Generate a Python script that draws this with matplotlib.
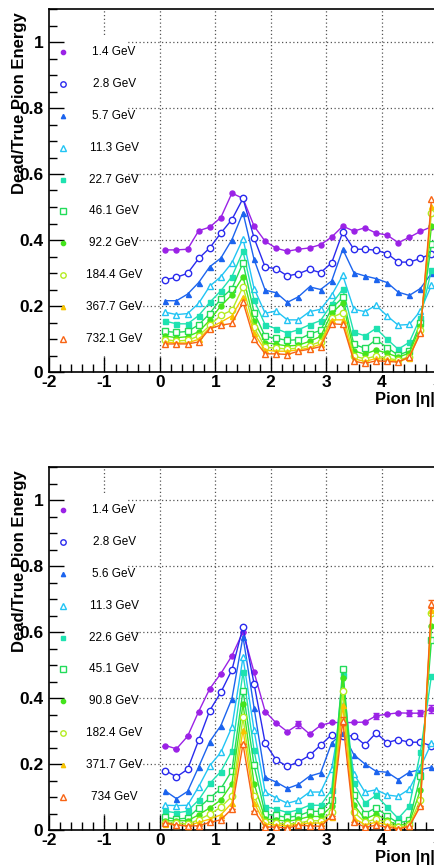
import matplotlib
matplotlib.use("Agg")
import matplotlib.pyplot as plt
from matplotlib.patches import Rectangle

plt.rcParams['font.family'] = ['Liberation Sans', 'DejaVu Sans']

eta = [0.1, 0.3, 0.5, 0.7, 0.9, 1.1, 1.3, 1.5, 1.7, 1.9, 2.1, 2.3, 2.5,
       2.7, 2.9, 3.1, 3.3, 3.5, 3.7, 3.9, 4.1, 4.3, 4.5, 4.7, 4.9]

top_labels = ["1.4 GeV", "2.8 GeV", "5.7 GeV", "11.3 GeV", "22.7 GeV",
              "46.1 GeV", "92.2 GeV", "184.4 GeV", "367.7 GeV", "732.1 GeV"]
bot_labels = ["1.4 GeV", "2.8 GeV", "5.6 GeV", "11.3 GeV", "22.6 GeV",
              "45.1 GeV", "90.8 GeV", "182.4 GeV", "371.7 GeV", "734 GeV"]

# upper panel
top_e1 = [0.370, 0.370, 0.372, 0.428, 0.439, 0.468, 0.542, 0.526, 0.442, 0.396, 0.375, 0.366, 0.372,
          0.376, 0.386, 0.409, 0.442, 0.427, 0.437, 0.421, 0.415, 0.392, 0.408, 0.426, 0.440]
top_e2 = [0.280, 0.287, 0.299, 0.344, 0.376, 0.421, 0.462, 0.526, 0.406, 0.318, 0.313, 0.291, 0.298,
          0.311, 0.301, 0.331, 0.424, 0.372, 0.372, 0.369, 0.359, 0.333, 0.333, 0.344, 0.359]
top_e3 = [0.216, 0.216, 0.236, 0.271, 0.319, 0.345, 0.401, 0.483, 0.341, 0.248, 0.240, 0.211, 0.228,
          0.258, 0.250, 0.276, 0.372, 0.301, 0.291, 0.283, 0.271, 0.242, 0.232, 0.253, 0.299]
top_e4 = [0.181, 0.174, 0.177, 0.208, 0.260, 0.289, 0.331, 0.404, 0.253, 0.178, 0.185, 0.158, 0.158,
          0.183, 0.190, 0.233, 0.293, 0.190, 0.183, 0.202, 0.170, 0.142, 0.144, 0.185, 0.263]
top_e5 = [0.154, 0.146, 0.146, 0.171, 0.211, 0.246, 0.289, 0.366, 0.218, 0.143, 0.131, 0.118, 0.128,
          0.143, 0.156, 0.206, 0.251, 0.120, 0.110, 0.132, 0.099, 0.069, 0.090, 0.165, 0.309]
top_e6 = [0.123, 0.120, 0.123, 0.143, 0.177, 0.222, 0.253, 0.331, 0.180, 0.108, 0.102, 0.096, 0.098,
          0.115, 0.126, 0.193, 0.226, 0.084, 0.072, 0.098, 0.074, 0.051, 0.064, 0.150, 0.389]
top_e7 = [0.109, 0.104, 0.107, 0.122, 0.157, 0.200, 0.234, 0.289, 0.155, 0.089, 0.084, 0.079, 0.081,
          0.093, 0.108, 0.178, 0.210, 0.064, 0.054, 0.067, 0.057, 0.045, 0.057, 0.138, 0.442]
top_e8 = [0.098, 0.094, 0.096, 0.109, 0.141, 0.172, 0.187, 0.258, 0.135, 0.075, 0.072, 0.070, 0.072,
          0.080, 0.092, 0.165, 0.180, 0.048, 0.040, 0.048, 0.042, 0.036, 0.046, 0.128, 0.483]
top_e9 = [0.091, 0.088, 0.088, 0.099, 0.134, 0.151, 0.170, 0.228, 0.117, 0.066, 0.063, 0.063, 0.067,
          0.073, 0.084, 0.158, 0.158, 0.040, 0.032, 0.041, 0.038, 0.032, 0.042, 0.122, 0.503]
top_e10 = [0.085, 0.085, 0.085, 0.091, 0.131, 0.142, 0.147, 0.212, 0.099, 0.055, 0.055, 0.053, 0.063,
           0.069, 0.077, 0.146, 0.144, 0.033, 0.026, 0.034, 0.032, 0.030, 0.046, 0.117, 0.523]

# lower panel
bot_e1 = [0.256, 0.246, 0.284, 0.359, 0.428, 0.474, 0.528, 0.600, 0.478, 0.359, 0.324, 0.298, 0.320,
          0.291, 0.317, 0.326, 0.325, 0.326, 0.327, 0.346, 0.351, 0.355, 0.354, 0.354, 0.367]
bot_e2 = [0.180, 0.161, 0.184, 0.272, 0.362, 0.417, 0.485, 0.615, 0.443, 0.263, 0.212, 0.193, 0.206,
          0.226, 0.257, 0.289, 0.284, 0.286, 0.258, 0.294, 0.265, 0.274, 0.266, 0.266, 0.255]
bot_e3 = [0.118, 0.095, 0.117, 0.191, 0.268, 0.316, 0.398, 0.586, 0.370, 0.160, 0.145, 0.126, 0.138,
          0.163, 0.173, 0.264, 0.294, 0.228, 0.200, 0.178, 0.175, 0.153, 0.175, 0.183, 0.190]
bot_e4 = [0.075, 0.074, 0.075, 0.131, 0.195, 0.235, 0.312, 0.523, 0.302, 0.115, 0.097, 0.081, 0.090,
          0.115, 0.115, 0.186, 0.380, 0.170, 0.115, 0.122, 0.106, 0.102, 0.124, 0.190, 0.263]
bot_e5 = [0.057, 0.052, 0.057, 0.091, 0.141, 0.177, 0.240, 0.478, 0.241, 0.071, 0.063, 0.053, 0.061,
          0.075, 0.075, 0.122, 0.470, 0.142, 0.082, 0.105, 0.070, 0.035, 0.072, 0.235, 0.468]
bot_e6 = [0.038, 0.033, 0.036, 0.067, 0.097, 0.125, 0.180, 0.422, 0.196, 0.048, 0.044, 0.038, 0.043,
          0.056, 0.057, 0.092, 0.489, 0.105, 0.050, 0.067, 0.043, 0.021, 0.029, 0.163, 0.575]
bot_e7 = [0.028, 0.028, 0.028, 0.046, 0.067, 0.091, 0.140, 0.382, 0.140, 0.033, 0.031, 0.026, 0.032,
          0.041, 0.041, 0.072, 0.460, 0.077, 0.033, 0.048, 0.030, 0.013, 0.021, 0.122, 0.617]
bot_e8 = [0.021, 0.021, 0.018, 0.031, 0.048, 0.069, 0.102, 0.341, 0.104, 0.024, 0.021, 0.018, 0.021,
          0.028, 0.028, 0.054, 0.420, 0.054, 0.024, 0.033, 0.023, 0.008, 0.015, 0.092, 0.658]
bot_e9 = [0.018, 0.015, 0.013, 0.023, 0.033, 0.046, 0.082, 0.304, 0.082, 0.018, 0.015, 0.013, 0.017,
          0.021, 0.021, 0.038, 0.380, 0.036, 0.016, 0.023, 0.016, 0.005, 0.011, 0.077, 0.668]
bot_e10 = [0.022, 0.015, 0.012, 0.013, 0.023, 0.031, 0.064, 0.261, 0.059, 0.009, 0.009, 0.006, 0.014,
           0.013, 0.011, 0.042, 0.330, 0.024, 0.009, 0.014, 0.009, 0.003, 0.011, 0.072, 0.686]

# the few visible error bars in the lower panel
bot_err1 = [0, 0, 0, 0, 0, 0, 0, 0, 0, 0, 0, 0, 0.010,
            0, 0, 0, 0, 0, 0, 0.010, 0, 0, 0.010, 0.010, 0.012]
bot_err10 = [0, 0, 0, 0, 0, 0, 0, 0, 0, 0, 0, 0, 0,
             0, 0, 0, 0.012, 0, 0, 0, 0, 0, 0, 0, 0.012]

colors = ['#9b22e6', '#2a2aee', '#1c64ee', '#22c4f4', '#1ee2b0',
          '#22dc5a', '#44e41c', '#b4ec22', '#f8c400', '#f86414']
markers = ['o', 'o', '^', '^', 's', 's', 'o', 'o', '^', '^']
filled = [True, False, True, False, True, False, True, False, True, False]

top_series = [top_e1, top_e2, top_e3, top_e4, top_e5, top_e6, top_e7, top_e8, top_e9, top_e10]
bot_series = [bot_e1, bot_e2, bot_e3, bot_e4, bot_e5, bot_e6, bot_e7, bot_e8, bot_e9, bot_e10]

fig = plt.figure(figsize=(4.35, 8.67), dpi=100)
ax_top = fig.add_axes([49 / 435, 1 - 372 / 867, 388 / 435, 363 / 867])
ax_bot = fig.add_axes([49 / 435, 1 - 830 / 867, 388 / 435, 363 / 867])


def draw_panel(ax, series, labels, errs):
    ax.set_xlim(-2, 5)
    ax.set_ylim(0, 1.1)
    ax.set_xticks([-2, -1, 0, 1, 2, 3, 4, 5])
    ax.set_yticks([0, 0.2, 0.4, 0.6, 0.8, 1.0])
    ax.set_xticklabels(['-2', '-1', '0', '1', '2', '3', '4', '5'])
    ax.set_yticklabels(['0', '0.2', '0.4', '0.6', '0.8', '1'])
    ax.set_xticks([i / 5 for i in range(-10, 26)], minor=True)
    ax.set_yticks([i / 20 for i in range(0, 23)], minor=True)
    ax.tick_params(which='both', direction='in', top=False, right=False)
    ax.tick_params(which='major', length=11, width=1, labelsize=12.5, pad=2)
    ax.tick_params(axis='y', which='major', pad=4)
    ax.tick_params(which='minor', length=6, width=1)
    for lab in ax.get_xticklabels() + ax.get_yticklabels():
        lab.set_fontweight('bold')
    for sp in ax.spines.values():
        sp.set_linewidth(1.2)
    ax.set_axisbelow(False)

    # dotted grid under the legend box
    for xv in [-1, 0, 1, 2, 3, 4]:
        ax.axvline(xv, color='#555555', ls=(0, (1, 2)), lw=0.9, zorder=1)
    for yv in [0.2, 0.4, 0.6, 0.8, 1.0]:
        ax.axhline(yv, color='#555555', ls=(0, (1, 2)), lw=0.9, zorder=1)
    ax.add_patch(Rectangle((0, 0.045), 0.204, 0.882, transform=ax.transAxes,
                           facecolor='white', edgecolor='none', zorder=1.5))

    for i, (vals, lab) in enumerate(zip(series, labels)):
        fc = colors[i] if filled[i] else 'white'
        ms = 3.6 if filled[i] else 4.6
        if errs.get(i) is not None:
            ax.errorbar(eta, vals, yerr=errs[i], color=colors[i], lw=1.0,
                        capsize=2.5, elinewidth=1.0, marker=markers[i], ms=ms,
                        mfc=fc, mec=colors[i], mew=1.0, zorder=3 + i * 0.1)
        else:
            ax.plot(eta, vals, color=colors[i], lw=1.0, marker=markers[i], ms=ms,
                    mfc=fc, mec=colors[i], mew=1.0, zorder=3 + i * 0.1)
        # legend entry
        yrow = (0.97 - i * 0.0967) / 1.1
        ax.plot([0.036], [yrow], transform=ax.transAxes, ls='none', marker=markers[i],
                ms=ms * 0.85, mfc=fc, mec=colors[i], mew=1.0, zorder=5, clip_on=False)
        ax.text(0.168, yrow, lab, transform=ax.transAxes, ha='center', va='center',
                fontsize=8.5, zorder=5)

    ax.text(-0.077, 0.992, 'Dead/True Pion Energy', transform=ax.transAxes, rotation=90,
            ha='center', va='top', fontsize=12, fontweight='bold')
    ax.text(0.995, -0.075, 'Pion |\u03b7|', transform=ax.transAxes, ha='right', va='center',
            fontsize=12, fontweight='bold', clip_on=False)


draw_panel(ax_top, top_series, top_labels, {})
draw_panel(ax_bot, bot_series, bot_labels, {0: bot_err1, 9: bot_err10})

fig.savefig('out.png', dpi=100)
